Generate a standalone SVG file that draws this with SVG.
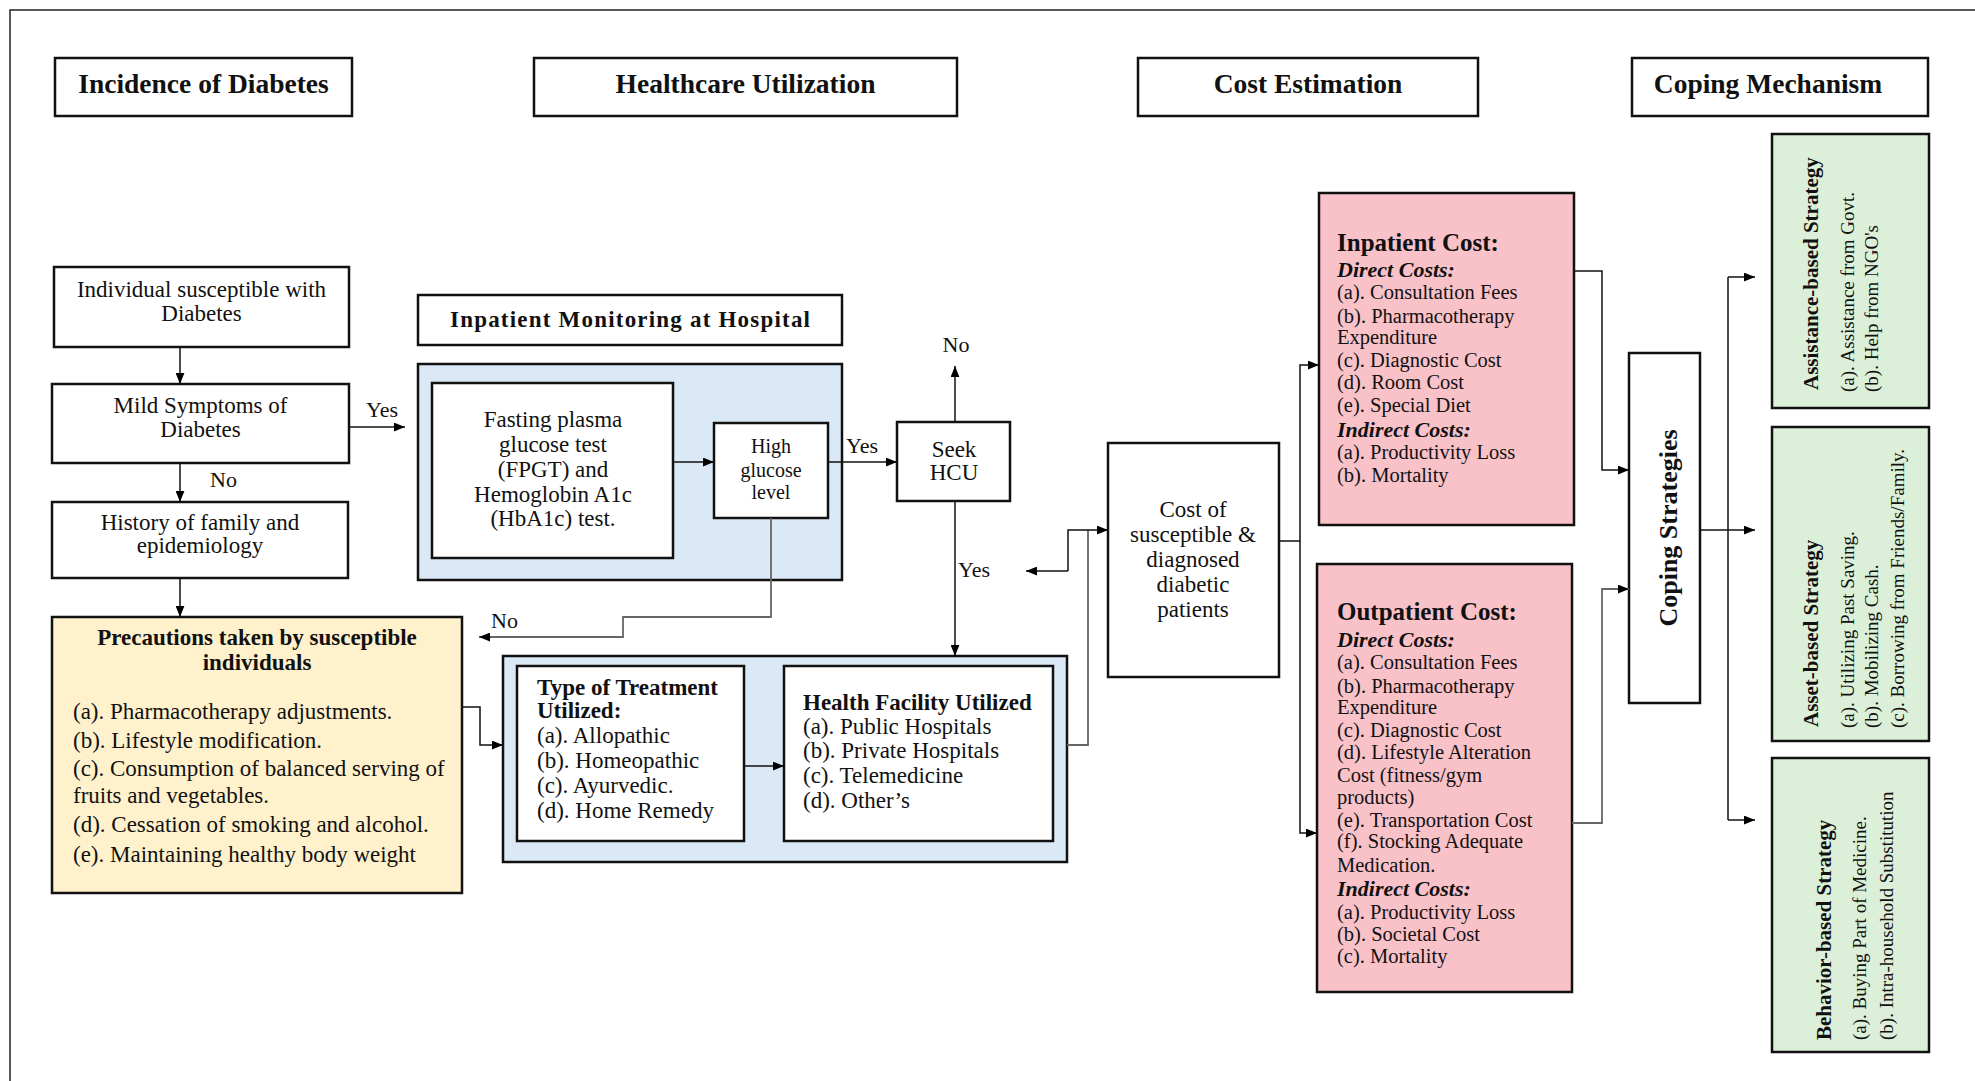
<svg xmlns="http://www.w3.org/2000/svg" width="1975" height="1081" viewBox="0 0 1975 1081">
<style>
text{font-family:"Liberation Serif","Times New Roman",serif;fill:#111}
.box{fill:#fff;stroke:#111;stroke-width:2.5}
.blue{fill:#dbe9f6;stroke:#111;stroke-width:2.5}
.yel{fill:#fff1cc;stroke:#111;stroke-width:2.5}
.pink{fill:#f9c1c8;stroke:#111;stroke-width:2.5}
.grn{fill:#dcf0d9;stroke:#111;stroke-width:2.5}
.hdr{font-size:27.5px;font-weight:bold;text-anchor:middle}
.c{text-anchor:middle}
.t22{font-size:23px}
.t20{font-size:20px}
.t20b{font-size:20.5px}
.r19{font-size:19px}
.b22{font-size:23px;font-weight:bold}
.b25{font-size:25px;font-weight:bold}
.bi{font-size:22px;font-weight:bold;font-style:italic}
.lbl{font-size:22px}
.ln{fill:none;stroke:#111;stroke-width:1.5}
.lg{fill:none;stroke:#666;stroke-width:1.8}
</style>
<defs>
<marker id="ah" viewBox="0 0 10 8" refX="10" refY="4" markerWidth="11" markerHeight="9" markerUnits="userSpaceOnUse" orient="auto"><path d="M0,0 L10,4 L0,8 z" fill="#000"/></marker>
</defs>
<g id="frame"><path d="M10,1081 V10 H1975" fill="none" stroke="#222" stroke-width="1.5"/></g>

<g id="hdr-incidence"><rect class="box" x="55" y="58" width="297" height="58"/><text class="hdr" x="203.5" y="93">Incidence of Diabetes</text></g>
<g id="hdr-healthcare"><rect class="box" x="534" y="58" width="423" height="58"/><text class="hdr" x="745.5" y="93">Healthcare Utilization</text></g>
<g id="hdr-cost"><rect class="box" x="1138" y="58" width="340" height="58"/><text class="hdr" x="1308" y="93">Cost Estimation</text></g>
<g id="hdr-coping"><rect class="box" x="1632" y="58" width="296" height="58"/><text class="hdr" x="1768" y="93">Coping Mechanism</text></g>

<g id="individual"><rect class="box" x="54" y="267" width="295" height="80"/><text class="t22 c" x="201.5" y="297">Individual susceptible with</text><text class="t22 c" x="201.5" y="321">Diabetes</text></g>
<g id="mild"><rect class="box" x="52" y="384" width="297" height="79"/><text class="t22 c" x="200.5" y="413">Mild Symptoms of</text><text class="t22 c" x="200.5" y="437">Diabetes</text></g>
<g id="history"><rect class="box" x="52" y="502" width="296" height="76"/><text class="t22 c" x="200" y="530">History of family and</text><text class="t22 c" x="200" y="553">epidemiology</text></g>
<g id="precautions"><rect class="yel" x="52" y="617" width="410" height="276"/>
<text class="b22 c" x="257" y="645">Precautions taken by susceptible</text><text class="b22 c" x="257" y="670">individuals</text>
<text class="t22" x="73" y="719">(a). Pharmacotherapy adjustments.</text>
<text class="t22" x="73" y="748">(b). Lifestyle modification.</text>
<text class="t22" x="73" y="776">(c). Consumption of balanced serving of</text>
<text class="t22" x="73" y="803">fruits and vegetables.</text>
<text class="t22" x="73" y="832">(d). Cessation of smoking and alcohol.</text>
<text class="t22" x="73" y="862">(e). Maintaining healthy body weight</text></g>

<g id="inpatient-monitoring"><rect class="box" x="418" y="295" width="424" height="50"/><text class="b22" x="450" y="327" textLength="360" lengthAdjust="spacing">Inpatient Monitoring at Hospital</text></g>
<g id="monitor-group"><rect class="blue" x="418" y="364" width="424" height="216"/></g>
<g id="fasting"><rect class="box" x="432" y="383" width="241" height="175"/>
<text class="t22 c" x="553" y="427">Fasting plasma</text><text class="t22 c" x="553" y="452">glucose test</text><text class="t22 c" x="553" y="477">(FPGT) and</text><text class="t22 c" x="553" y="502">Hemoglobin A1c</text><text class="t22 c" x="553" y="526">(HbA1c) test.</text></g>
<g id="high-glucose"><rect class="box" x="714" y="423" width="114" height="95"/><text class="t20 c" x="771" y="453">High</text><text class="t20 c" x="771" y="477">glucose</text><text class="t20 c" x="771" y="499">level</text></g>
<g id="seek-hcu"><rect class="box" x="897" y="422" width="113" height="79"/><text class="t22 c" x="954" y="457">Seek</text><text class="t22 c" x="954" y="480">HCU</text></g>

<g id="treatment-group"><rect class="blue" x="503" y="656" width="564" height="206"/></g>
<g id="treatment"><rect class="box" x="517" y="666" width="227" height="175"/>
<text class="b22" x="537" y="695">Type of Treatment</text><text class="b22" x="537" y="718">Utilized:</text>
<text class="t22" x="537" y="743">(a). Allopathic</text><text class="t22" x="537" y="768">(b). Homeopathic</text><text class="t22" x="537" y="793">(c). Ayurvedic.</text><text class="t22" x="537" y="818">(d). Home Remedy</text></g>
<g id="facility"><rect class="box" x="784" y="666" width="269" height="175"/>
<text class="b22" x="803" y="710">Health Facility Utilized</text>
<text class="t22" x="803" y="734">(a). Public Hospitals</text><text class="t22" x="803" y="758">(b). Private Hospitals</text><text class="t22" x="803" y="783">(c). Telemedicine</text><text class="t22" x="803" y="808">(d). Other’s</text></g>

<g id="cost-box"><rect class="box" x="1108" y="443" width="171" height="234"/>
<text class="t22 c" x="1193" y="517">Cost of</text><text class="t22 c" x="1193" y="542">susceptible &amp;</text><text class="t22 c" x="1193" y="567">diagnosed</text><text class="t22 c" x="1193" y="592">diabetic</text><text class="t22 c" x="1193" y="617">patients</text></g>

<g id="inpatient-cost"><rect class="pink" x="1319" y="193" width="255" height="332"/>
<text class="b25" x="1337" y="251">Inpatient Cost:</text>
<text class="bi" x="1337" y="277">Direct Costs:</text>
<text class="t20b" x="1337" y="299">(a). Consultation Fees</text>
<text class="t20b" x="1337" y="323">(b). Pharmacotherapy</text>
<text class="t20b" x="1337" y="344">Expenditure</text>
<text class="t20b" x="1337" y="367">(c). Diagnostic Cost</text>
<text class="t20b" x="1337" y="389">(d). Room Cost</text>
<text class="t20b" x="1337" y="412">(e). Special Diet</text>
<text class="bi" x="1337" y="437">Indirect Costs:</text>
<text class="t20b" x="1337" y="459">(a). Productivity Loss</text>
<text class="t20b" x="1337" y="482">(b). Mortality</text></g>

<g id="outpatient-cost"><rect class="pink" x="1317" y="564" width="255" height="428"/>
<text class="b25" x="1337" y="620">Outpatient Cost:</text>
<text class="bi" x="1337" y="647">Direct Costs:</text>
<text class="t20b" x="1337" y="669">(a). Consultation Fees</text>
<text class="t20b" x="1337" y="693">(b). Pharmacotherapy</text>
<text class="t20b" x="1337" y="714">Expenditure</text>
<text class="t20b" x="1337" y="737">(c). Diagnostic Cost</text>
<text class="t20b" x="1337" y="759">(d). Lifestyle Alteration</text>
<text class="t20b" x="1337" y="782">Cost (fitness/gym</text>
<text class="t20b" x="1337" y="804">products)</text>
<text class="t20b" x="1337" y="827">(e). Transportation Cost</text>
<text class="t20b" x="1337" y="848">(f). Stocking Adequate</text>
<text class="t20b" x="1337" y="872">Medication.</text>
<text class="bi" x="1337" y="896">Indirect Costs:</text>
<text class="t20b" x="1337" y="919">(a). Productivity Loss</text>
<text class="t20b" x="1337" y="941">(b). Societal Cost</text>
<text class="t20b" x="1337" y="963">(c). Mortality</text></g>

<g id="coping-strategies"><rect class="box" x="1629" y="353" width="71" height="350"/><text class="c" style="font-size:26px;font-weight:bold" transform="translate(1677,528) rotate(-90)">Coping Strategies</text></g>

<g id="assistance"><rect class="grn" x="1772" y="134" width="157" height="274"/>
<text style="font-size:21px;font-weight:bold" transform="translate(1818,390) rotate(-90)">Assistance-based Strategy</text>
<text class="r19" transform="translate(1854,392) rotate(-90)">(a). Assistance from Govt.</text>
<text class="r19" transform="translate(1878,392) rotate(-90)">(b). Help from NGO's</text></g>
<g id="asset"><rect class="grn" x="1772" y="427" width="157" height="314"/>
<text style="font-size:21px;font-weight:bold" transform="translate(1818,727) rotate(-90)">Asset-based Strategy</text>
<text class="r19" transform="translate(1854,728) rotate(-90)">(a). Utilizing Past Saving.</text>
<text class="r19" transform="translate(1878,728) rotate(-90)">(b). Mobilizing Cash.</text>
<text class="r19" transform="translate(1904,728) rotate(-90)">(c). Borrowing from Friends/Family.</text></g>
<g id="behavior"><rect class="grn" x="1772" y="758" width="157" height="294"/>
<text style="font-size:21px;font-weight:bold" transform="translate(1831,1040) rotate(-90)">Behavior-based Strategy</text>
<text class="r19" transform="translate(1866,1040) rotate(-90)">(a). Buying Part of Medicine.</text>
<text class="r19" transform="translate(1893,1040) rotate(-90)">(b). Intra-household Substitution</text></g>

<g id="connectors">
<path class="ln" d="M180,347 V384" marker-end="url(#ah)"/>
<path class="ln" d="M349,427 H405" marker-end="url(#ah)"/>
<path class="ln" d="M180,463 V502" marker-end="url(#ah)"/>
<path class="ln" d="M180,578 V617" marker-end="url(#ah)"/>
<path class="ln" d="M673,462 H714" marker-end="url(#ah)"/>
<path class="ln" d="M828,462 H897" marker-end="url(#ah)"/>
<path class="ln" d="M955,422 V366" marker-end="url(#ah)"/>
<path class="ln" d="M955,501 V656" marker-end="url(#ah)"/>
<path class="lg" d="M771,518 V617 H623 V637 H479" marker-end="url(#ah)"/>
<path class="ln" d="M462,707 H480 V745 H503" marker-end="url(#ah)"/>
<path class="ln" d="M744,766 H784" marker-end="url(#ah)"/>
<path class="lg" d="M1067,745 H1088 V530"/>
<path class="ln" d="M1068,571 V530 H1108" marker-end="url(#ah)"/>
<path class="ln" d="M1068,571 H1026" marker-end="url(#ah)"/>
<path class="ln" d="M1279,541 H1300 V365 H1319" marker-end="url(#ah)"/>
<path class="ln" d="M1300,541 V833 H1317" marker-end="url(#ah)"/>
<path class="ln" d="M1574,271 H1602 V470 H1629" marker-end="url(#ah)"/>
<path class="lg" d="M1572,823 H1602 V589 H1629" marker-end="url(#ah)"/>
<path class="ln" d="M1700,530 H1755" marker-end="url(#ah)"/>
<path class="ln" d="M1728,277 V820"/>
<path class="ln" d="M1728,277 H1755" marker-end="url(#ah)"/>
<path class="ln" d="M1728,820 H1755" marker-end="url(#ah)"/>
<text class="lbl" x="366" y="417">Yes</text>
<text class="lbl" x="210" y="487">No</text>
<text class="lbl" x="846" y="453">Yes</text>
<text class="lbl c" x="956" y="352">No</text>
<text class="lbl" x="958" y="577">Yes</text>
<text class="lbl" x="491" y="628">No</text>
</g>
</svg>
